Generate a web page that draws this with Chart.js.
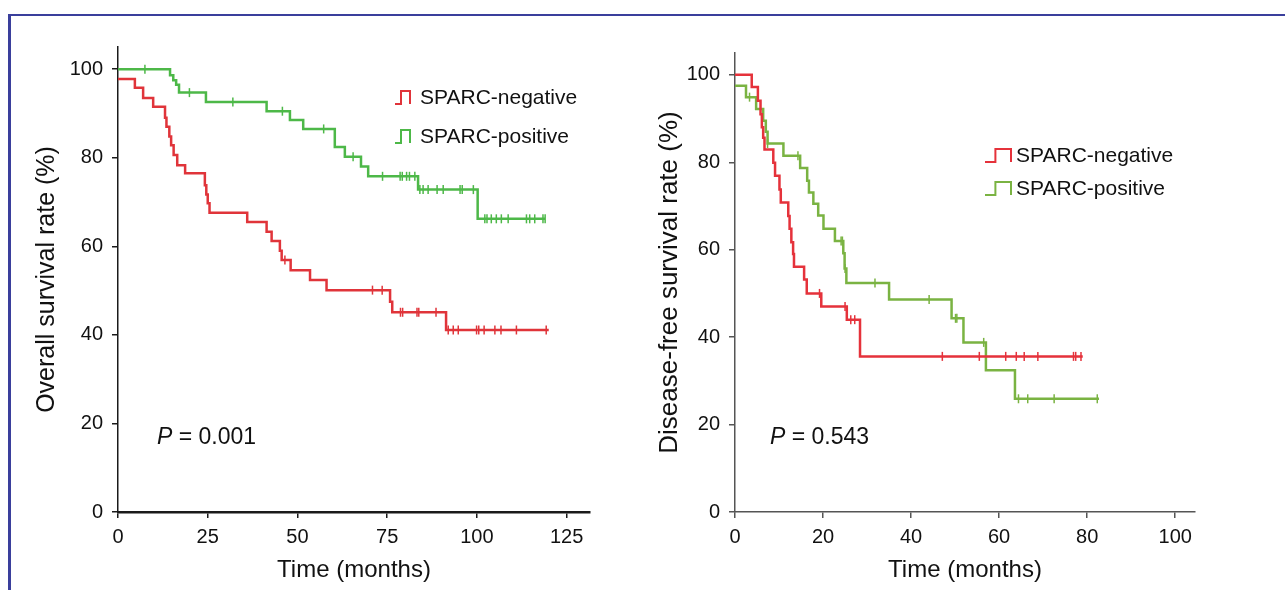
<!DOCTYPE html>
<html lang="en">
<head>
    <meta charset="UTF-8">
    <title>SPARC survival</title>
    <script src="https://cdn.jsdelivr.net/npm/chart.js@4.4.1/dist/chart.umd.min.js"></script>
    <style>
        body {
            margin: 0;
            background: #fff;
            width: 1285px;
            height: 590px;
            overflow: hidden;
            position: relative;
        }
        .frame {
            position: absolute;
            left: 8px;
            top: 14px;
            width: 1277px;
            height: 576px;
            border-top: 2px solid #3a3f9c;
            border-left: 3px solid #3a3f9c;
            box-sizing: border-box;
        }
        .box {
            position: absolute;
            top: 0;
            height: 590px;
        }
        #leftBox { left: 0; width: 640px; }
        #rightBox { left: 640px; width: 645px; }
    </style>
</head>
<body>
    <div class="frame"></div>
    <div class="box" id="leftBox"><canvas id="osChart"></canvas></div>
    <div class="box" id="rightBox"><canvas id="dfsChart"></canvas></div>
    <script>
        const seriesNames = ['SPARC-negative', 'SPARC-positive'];

        // overall survival, SPARC-negative: event times (months) and survival (%)
        const osNegTime = [0, 4.7, 7, 9.8, 13.1, 13.5, 14.3, 14.8, 15.5, 16.5, 18.7, 24.2, 24.6, 25, 25.5, 36, 41.4, 42.8, 45.1, 45.6, 48.1, 53.5, 58.1, 75.8, 76.4, 91.4, 120];
        const osNegSurv = [97.8, 95.8, 93.5, 91.5, 89, 87, 84.8, 82.8, 80.6, 78.3, 76.5, 73.8, 71.7, 69.7, 67.6, 65.5, 63.3, 61.2, 59, 56.9, 54.6, 52.4, 50.1, 47.5, 45.1, 41.1, 41.1];
        const osNegCensor = [46.5, 70.9, 73.6, 78.7, 79.3, 83.3, 83.8, 88.6, 92, 93.4, 94.8, 99.9, 100.5, 102, 105, 106.7, 111, 119.3];

        // overall survival, SPARC-positive
        const osPosTime = [0, 14.5, 15.4, 16.2, 17, 24.5, 41.4, 47.9, 51.6, 60.4, 63.2, 67.7, 69.7, 83.6, 100.2, 119];
        const osPosSurv = [100, 98.6, 97.5, 96.5, 94.7, 92.6, 90.5, 88.5, 86.5, 82.4, 80.2, 78, 75.8, 72.8, 66.2, 66.2];
        const osPosCensor = [7.5, 19.9, 32, 45.8, 57.3, 65.5, 73.7, 78.6, 79.2, 80.4, 81.2, 82.7, 84.1, 85, 86.4, 88.9, 90.6, 95.3, 95.9, 99, 102.2, 102.8, 104, 105.4, 106.8, 108.7, 113.8, 114.7, 116.1, 118.4, 119];

        // disease-free survival, SPARC-negative
        const dfsNegTime = [0, 3.8, 5.2, 5.8, 6.1, 6.4, 6.7, 8.7, 9.1, 10.1, 10.4, 12.1, 12.4, 12.8, 13.2, 13.4, 15.7, 16.3, 19.6, 25.4, 28.4, 79];
        const dfsNegSurv = [100, 97.2, 94.1, 91, 88, 85.6, 82.9, 79.9, 76.9, 73.8, 70.8, 67.7, 64.8, 61.7, 59, 56.1, 53.2, 50, 47, 44, 35.6, 35.6];
        const dfsNegCensor = [19.2, 25, 26.3, 27.2, 47.1, 55.5, 61.5, 63.9, 65.7, 68.8, 76.9, 77.4, 78.6];

        // disease-free survival, SPARC-positive
        const dfsPosTime = [0, 2.5, 4.8, 6.4, 7, 7.4, 11, 14.8, 16.4, 16.8, 17.8, 18.9, 20.1, 22.7, 24.6, 24.9, 25.3, 35, 49.2, 51.9, 57, 63.6, 82.7];
        const dfsPosSurv = [97.5, 94.9, 92.2, 89.5, 87, 84.3, 81.5, 78.7, 75.8, 73.1, 70.5, 67.8, 64.8, 62, 59.2, 55.7, 52.4, 48.6, 44.3, 38.8, 32.4, 25.9, 25.9];
        const dfsPosCensor = [3.3, 7.4, 14.3, 24.1, 24.4, 25, 31.8, 44.1, 50.1, 50.4, 56.5, 64.4, 66.5, 72.5, 82.3];

        const osXTicks = [0, 25, 50, 75, 100, 125];
        const dfsXTicks = [0, 20, 40, 60, 80, 100];
        const yTicks = [0, 20, 40, 60, 80, 100];

        const FONT = '"Liberation Sans", Arial, sans-serif';

        function survAt(times, surv, t) {
            let s = surv[0];
            for (let i = 0; i < times.length; i++) {
                if (times[i] <= t) s = surv[i];
            }
            return s;
        }

        function curve(times, surv, label, color) {
            return {
                label: label,
                data: times.map((t, i) => ({x: t, y: surv[i]})),
                borderColor: color,
                borderWidth: 2.5,
                stepped: true,
                pointRadius: 0,
                fill: false
            };
        }

        function censors(times, surv, censorTimes, color) {
            return {
                data: censorTimes.map(t => ({x: t, y: survAt(times, surv, t)})),
                showLine: false,
                pointStyle: 'line',
                rotation: 90,
                pointRadius: 4.5,
                borderColor: color,
                borderWidth: 1.5
            };
        }

        // legend with step icons and the P value text
        function annotations(cfg) {
            return {
                id: 'annot',
                afterDraw(chart) {
                    const ctx = chart.ctx;
                    ctx.save();
                    cfg.legend.forEach((item, i) => {
                        const y = item.y;
                        ctx.strokeStyle = item.color;
                        ctx.lineWidth = 2;
                        ctx.beginPath();
                        ctx.moveTo(item.x, y + 6);
                        ctx.lineTo(item.x + item.w * 0.4, y + 6);
                        ctx.lineTo(item.x + item.w * 0.4, y - 7);
                        ctx.lineTo(item.x + item.w, y - 7);
                        ctx.lineTo(item.x + item.w, y + 6);
                        ctx.stroke();
                        ctx.fillStyle = '#111';
                        ctx.font = '21px ' + FONT;
                        ctx.textBaseline = 'middle';
                        ctx.textAlign = 'left';
                        ctx.fillText(seriesNames[i], item.tx, y);
                    });
                    ctx.fillStyle = '#111';
                    ctx.textBaseline = 'middle';
                    ctx.font = 'italic 23px ' + FONT;
                    ctx.fillText('P', cfg.p.x, cfg.p.y);
                    const pw = ctx.measureText('P').width;
                    ctx.font = '23px ' + FONT;
                    ctx.fillText(' = ' + cfg.p.text, cfg.p.x + pw, cfg.p.y);
                    ctx.restore();
                }
            };
        }

        function makeChart(id, opt) {
            const axisColor = opt.axisColor;
            return new Chart(document.getElementById(id), {
                type: 'line',
                data: {datasets: opt.datasets},
                options: {
                    responsive: true,
                    maintainAspectRatio: false,
                    animation: false,
                    layout: {padding: opt.padding},
                    plugins: {legend: {display: false}, tooltip: {enabled: false}},
                    scales: {
                        x: {
                            type: 'linear',
                            min: 0,
                            max: opt.xMax,
                            afterBuildTicks: s => { s.ticks = opt.xTicks.map(v => ({value: v})); },
                            afterFit: s => { s.height = 78; },
                            grid: {drawOnChartArea: false, drawTicks: true, tickLength: 6, color: axisColor, lineWidth: 1.5},
                            border: {color: axisColor, width: opt.xBorder},
                            ticks: {color: '#111', font: {family: FONT, size: 20}, padding: 7, maxRotation: 0},
                            title: {display: true, text: 'Time (months)', color: '#111', font: {family: FONT, size: 24}, padding: {bottom: 5}}
                        },
                        y: {
                            min: 0,
                            max: 105,
                            afterBuildTicks: s => { s.ticks = yTicks.map(v => ({value: v})); },
                            afterFit: s => { s.width = opt.yWidth; },
                            grid: {drawOnChartArea: false, drawTicks: true, tickLength: 6, color: axisColor, lineWidth: 1.5},
                            border: {color: axisColor, width: opt.yBorder},
                            ticks: {color: '#111', font: {family: FONT, size: 20}, padding: 9},
                            title: {display: true, text: opt.yTitle, color: '#111', font: {family: FONT, size: opt.yTitleSize}, padding: {top: opt.yTitlePad}}
                        }
                    }
                },
                plugins: [annotations(opt.annot)]
            });
        }

        const osRed = '#e0343a', osGreen = '#4db848';
        const dfsRed = '#e5323b', dfsGreen = '#7ab342';

        makeChart('osChart', {
            datasets: [
                curve(osNegTime, osNegSurv, seriesNames[0], osRed),
                curve(osPosTime, osPosSurv, seriesNames[1], osGreen),
                censors(osNegTime, osNegSurv, osNegCensor, osRed),
                censors(osPosTime, osPosSurv, osPosCensor, osGreen)
            ],
            padding: {left: 0, top: 47, right: 50, bottom: 0},
            xMax: 131.5,
            xTicks: osXTicks,
            yWidth: 118,
            yTitle: 'Overall survival rate (%)',
            yTitleSize: 25,
            yTitlePad: 32,
            axisColor: '#1a1a1a',
            xBorder: 2.5,
            yBorder: 1.5,
            annot: {
                legend: [
                    {x: 395, w: 15, tx: 420, y: 98, color: osRed},
                    {x: 395, w: 15, tx: 420, y: 137, color: osGreen}
                ],
                p: {x: 157, y: 438, text: '0.001'}
            }
        });

        makeChart('dfsChart', {
            datasets: [
                curve(dfsNegTime, dfsNegSurv, seriesNames[0], dfsRed),
                curve(dfsPosTime, dfsPosSurv, seriesNames[1], dfsGreen),
                censors(dfsNegTime, dfsNegSurv, dfsNegCensor, dfsRed),
                censors(dfsPosTime, dfsPosSurv, dfsPosCensor, dfsGreen)
            ],
            padding: {left: 0, top: 53, right: 90, bottom: 0},
            xMax: 104.5,
            xTicks: dfsXTicks,
            yWidth: 95,
            yTitle: 'Disease-free survival rate (%)',
            yTitleSize: 26,
            yTitlePad: 14,
            axisColor: '#555',
            xBorder: 1.5,
            yBorder: 1.5,
            annot: {
                legend: [
                    {x: 345, w: 26, tx: 376, y: 156, color: dfsRed},
                    {x: 345, w: 26, tx: 376, y: 189, color: dfsGreen}
                ],
                p: {x: 130, y: 438, text: '0.543'}
            }
        });
    </script>
</body>
</html>
